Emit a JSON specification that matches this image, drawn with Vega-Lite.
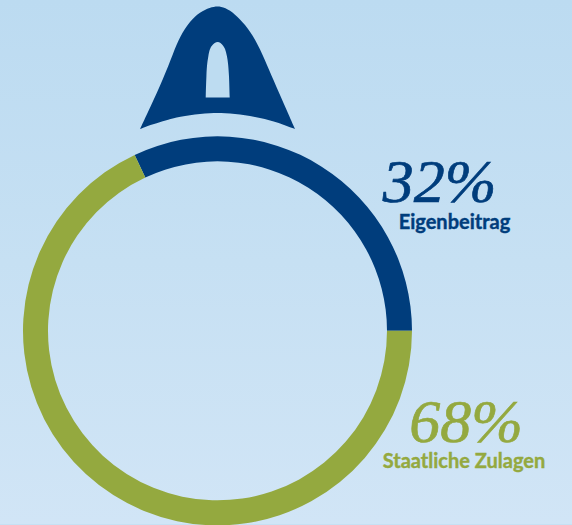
{
"$schema":"https://vega.github.io/schema/vega-lite/v6.json",
"width":572,"height":525,"padding":0,
"autosize":{"type":"fit","contains":"padding"},
"background":"#c6e0f3",
"view":{"stroke":null},
"datasets":{
"bg":[{"a":0,"b":572,"c":0,"d":525}],
"ring":[{"part":"Eigenbeitrag","share":32,"rank":1,"cx":217.5,"cy":331.5},{"part":"Staatliche Zulagen","share":68,"rank":2,"cx":217.5,"cy":331.5}],
"bell":[{"x":140,"t":129.3,"b":129.3},{"x":150,"t":108,"b":125.4},{"x":163.3,"t":79,"b":121.1},{"x":173.3,"t":53,"b":118.5},{"x":180,"t":36.5,"b":117},{"x":190,"t":21,"b":115.3},{"x":200,"t":12,"b":114.1},{"x":210,"t":7.5,"b":113.4},{"x":217.5,"t":6,"b":113.3},{"x":225,"t":7.5,"b":113.4},{"x":235,"t":14,"b":114.1},{"x":245,"t":24.5,"b":115.3},{"x":255,"t":38.5,"b":117},{"x":265,"t":60,"b":119.3},{"x":273.3,"t":80,"b":121.6},{"x":284,"t":104.3,"b":125.1},{"x":295,"t":129.3,"b":129.3}],
"win":[{"x":205.7,"t":97.7,"b":97.7},{"x":206.4,"t":76.7,"b":97.7},{"x":208.3,"t":56.7,"b":97.7},{"x":211.7,"t":46,"b":97.7},{"x":217.7,"t":42,"b":97.7},{"x":223.3,"t":46,"b":97.7},{"x":227,"t":56.7,"b":97.7},{"x":229,"t":76.7,"b":97.7},{"x":229.7,"t":97.7,"b":97.7}],
"pct":[{"x":439.5,"y":202,"t":"32%","k":"a"},{"x":466,"y":443,"t":"68%","k":"b"}],
"lab":[{"x":454.5,"y":229,"t":"Eigenbeitrag","k":"a"},{"x":464,"y":469,"t":"Staatliche Zulagen","k":"b"}]
},
"encoding":{},
"layer":[
{"data":{"name":"bg"},"mark":{"type":"rect","color":{"gradient":"linear","x1":0,"y1":0,"x2":0,"y2":1,"stops":[{"offset":0,"color":"#bcdbf1"},{"offset":0.5,"color":"#c6e0f3"},{"offset":1,"color":"#d1e5f6"}]}},
"encoding":{"x":{"field":"a","type":"quantitative","scale":{"domain":[0,572],"nice":false,"zero":false},"axis":null},"x2":{"field":"b"},"y":{"field":"c","type":"quantitative","scale":{"domain":[0,525],"reverse":true,"nice":false,"zero":false},"axis":null},"y2":{"field":"d"}}},
{"data":{"name":"ring"},"mark":{"type":"arc","radius":194.5,"radius2":169.5},
"encoding":{"theta":{"field":"share","type":"quantitative","scale":{"domain":[0,100],"range":[-0.44,5.8432]}},"order":{"field":"rank"},"color":{"field":"part","type":"nominal","scale":{"domain":["Eigenbeitrag","Staatliche Zulagen"],"range":["#003d7c","#94a93f"]},"legend":null},"x":{"field":"cx","type":"quantitative"},"y":{"field":"cy","type":"quantitative"}}},
{"data":{"name":"bell"},"mark":{"type":"area","orient":"vertical","color":"#003d7c","interpolate":"basis"},
"encoding":{"x":{"field":"x","type":"quantitative"},"y":{"field":"t","type":"quantitative"},"y2":{"field":"b"}}},
{"data":{"name":"win"},"mark":{"type":"area","orient":"vertical","color":"#bddcf1","interpolate":"monotone"},
"encoding":{"x":{"field":"x","type":"quantitative"},"y":{"field":"t","type":"quantitative"},"y2":{"field":"b"}}},
{"data":{"name":"pct"},"mark":{"type":"text","font":"Liberation Serif","fontStyle":"italic","fontSize":62,"strokeWidth":0.7,"align":"center","baseline":"alphabetic"},
"encoding":{"x":{"field":"x","type":"quantitative"},"y":{"field":"y","type":"quantitative"},"text":{"field":"t"},"color":{"field":"k","type":"nominal","scale":{"domain":["a","b"],"range":["#003d7c","#94a93f"]},"legend":null},"stroke":{"field":"k","type":"nominal","scale":{"domain":["a","b"],"range":["#003d7c","#94a93f"]},"legend":null}}},
{"data":{"name":"lab"},"mark":{"type":"text","font":"Lato","fontWeight":"bold","fontSize":20,"strokeWidth":0.4,"align":"center","baseline":"alphabetic"},
"encoding":{"x":{"field":"x","type":"quantitative"},"y":{"field":"y","type":"quantitative"},"text":{"field":"t"},"color":{"field":"k","type":"nominal","scale":{"domain":["a","b"],"range":["#003d7c","#94a93f"]},"legend":null},"stroke":{"field":"k","type":"nominal","scale":{"domain":["a","b"],"range":["#003d7c","#94a93f"]},"legend":null}}}
]
}
